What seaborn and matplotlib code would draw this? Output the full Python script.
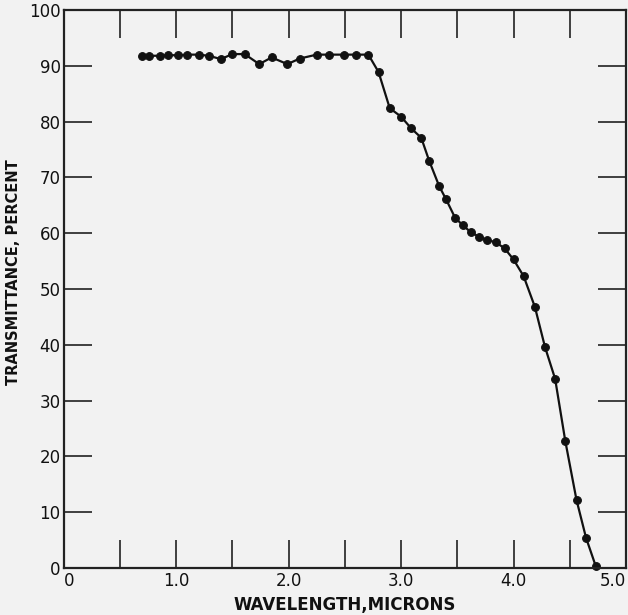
import matplotlib
matplotlib.use("Agg")
import matplotlib.pyplot as plt
import seaborn as sns
import pandas as pd

wavelength = [0.70, 0.76, 0.86, 0.93, 1.02, 1.10, 1.20, 1.29, 1.40, 1.50,
              1.61, 1.74, 1.85, 1.99, 2.10, 2.25, 2.36, 2.49, 2.60, 2.71,
              2.80, 2.90, 3.00, 3.09, 3.18, 3.25, 3.34, 3.40, 3.48, 3.55,
              3.62, 3.69, 3.76, 3.84, 3.92, 4.00, 4.09, 4.19, 4.28, 4.37,
              4.46, 4.56, 4.645, 4.73]
transmittance = [91.8, 91.8, 91.8, 91.9, 91.9, 92.0, 92.0, 91.8, 91.2, 92.1,
                 92.1, 90.3, 91.5, 90.3, 91.3, 92.0, 92.0, 92.0, 92.0, 92.0,
                 88.9, 82.4, 80.9, 78.8, 77.1, 73.0, 68.4, 66.1, 62.8, 61.4,
                 60.2, 59.4, 58.8, 58.4, 57.3, 55.3, 52.3, 46.8, 39.6, 33.9,
                 22.8, 12.2, 5.4, 0.4]
x_ticks = [0.5 * i for i in range(11)]
x_tick_labels = ["0", "", "1.0", "", "2.0", "", "3.0", "", "4.0", "", "5.0"]
y_ticks = list(range(0, 101, 10))
y_tick_labels = [str(v) for v in y_ticks]

df = pd.DataFrame({"wavelength": wavelength, "transmittance": transmittance})

sns.set_style("ticks")
plt.rcParams["font.family"] = ["DejaVu Sans"]
plt.rcParams["text.color"] = "#111111"
plt.rcParams["axes.labelcolor"] = "#111111"
plt.rcParams["xtick.labelcolor"] = "#111111"
plt.rcParams["ytick.labelcolor"] = "#111111"

bg = "#f2f2f2"
fig = plt.figure(figsize=(6.28, 6.15), dpi=100, facecolor=bg)
ax = fig.add_axes([63.5 / 628, 47 / 615, (626 - 63.5) / 628, (568 - 10) / 615])
ax.set_facecolor(bg)

sns.lineplot(data=df, x="wavelength", y="transmittance", ax=ax,
             color="#111111", linewidth=1.6, marker="o", markersize=5.6,
             markeredgecolor="#111111", markerfacecolor="#111111",
             sort=False, estimator=None, clip_on=False)

ax.set_xlim(0, 5.0)
ax.set_ylim(0, 100)
ax.set_xticks(x_ticks)
ax.set_xticklabels(x_tick_labels, fontsize=12, color="#111111")
ax.set_yticks(y_ticks)
ax.set_yticklabels(y_tick_labels, fontsize=12, color="#111111")
labels = ax.get_xticklabels()
labels[0].set_ha("left")
labels[-1].set_ha("right")

ax.tick_params(axis="both", which="both", direction="in", length=20,
               width=1.2, color="#222222", top=True, right=True,
               labeltop=False, labelright=False, pad=3)
ax.tick_params(axis="y", pad=2)
for s in ax.spines.values():
    s.set_linewidth(1.6)
    s.set_color("#222222")

ax.set_xlabel("WAVELENGTH,MICRONS", fontsize=12, fontweight="bold",
              labelpad=4, color="#111111")
ax.set_ylabel("TRANSMITTANCE, PERCENT", fontsize=10.5, fontweight="bold",
              color="#111111")
ax.yaxis.set_label_coords(-0.076, 0.53)

fig.savefig("out.png", dpi=100, facecolor=bg)
